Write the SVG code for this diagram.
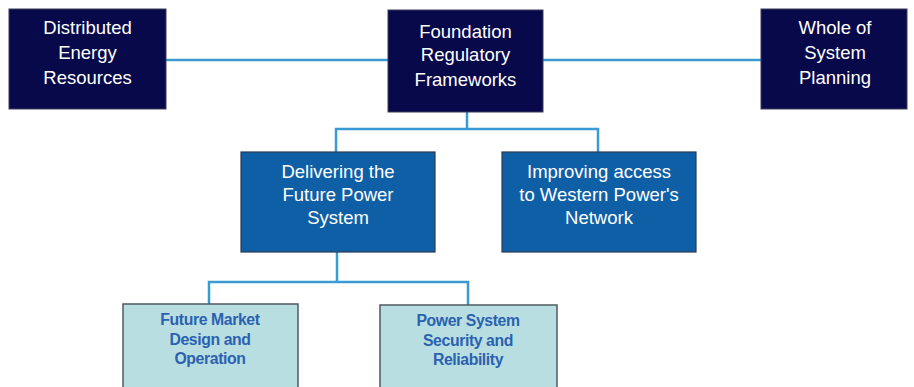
<svg xmlns="http://www.w3.org/2000/svg" width="914" height="387" viewBox="0 0 914 387">
  <style>
    .conn { fill: none; stroke: #3a9ad2; stroke-width: 2.5; }
    .navy { fill: #08094a; stroke: #3c3c5a; stroke-width: 1; }
    .mid { fill: #0f5fa6; stroke: #2c3a55; stroke-width: 1.2; }
    .light { fill: #b9dee2; stroke: #4f5a60; stroke-width: 1.5; }
    .tw { font-family: "Liberation Sans", Arial, sans-serif; font-size: 18.5px; fill: #ffffff; text-anchor: middle; }
    .tb { font-family: "Liberation Sans", Arial, sans-serif; font-size: 15.8px; font-weight: bold; fill: #2a62b0; text-anchor: middle; letter-spacing: -0.4px; }
  </style>
  <rect width="914" height="387" fill="#ffffff"/>

  <g id="connectors">
    <line class="conn" x1="166" y1="60" x2="388" y2="60"/>
    <line class="conn" x1="543" y1="60" x2="761" y2="60"/>
    <path class="conn" d="M467 112 V129 M336 152 V129 H598 V152"/>
    <path class="conn" d="M337 252 V282 M209 304 V282 H468 V305"/>
  </g>

  <g id="distributed-energy-resources">
    <rect class="navy" x="9" y="9" width="157" height="100"/>
    <text class="tw" x="87.5" y="34">Distributed</text>
    <text class="tw" x="87.5" y="59">Energy</text>
    <text class="tw" x="87.5" y="84">Resources</text>
  </g>

  <g id="foundation-regulatory-frameworks">
    <rect class="navy" x="388" y="10" width="155" height="102"/>
    <text class="tw" x="465.5" y="38">Foundation</text>
    <text class="tw" x="465.5" y="61">Regulatory</text>
    <text class="tw" x="465.5" y="86">Frameworks</text>
  </g>

  <g id="whole-of-system-planning">
    <rect class="navy" x="761" y="9" width="146" height="100"/>
    <text class="tw" x="835" y="34">Whole of</text>
    <text class="tw" x="835" y="59">System</text>
    <text class="tw" x="835" y="84">Planning</text>
  </g>

  <g id="delivering-future-power-system">
    <rect class="mid" x="241" y="152" width="194" height="100"/>
    <text class="tw" x="338" y="178">Delivering the</text>
    <text class="tw" x="338" y="201">Future Power</text>
    <text class="tw" x="338" y="224">System</text>
  </g>

  <g id="improving-access">
    <rect class="mid" x="502" y="152" width="194" height="100"/>
    <text class="tw" x="599" y="178">Improving access</text>
    <text class="tw" x="599" y="201">to Western Power's</text>
    <text class="tw" x="599" y="224">Network</text>
  </g>

  <g id="future-market-design">
    <rect class="light" x="123" y="304" width="175" height="90"/>
    <text class="tb" x="210" y="325">Future Market</text>
    <text class="tb" x="210" y="345">Design and</text>
    <text class="tb" x="210" y="364">Operation</text>
  </g>

  <g id="power-system-security">
    <rect class="light" x="380" y="305" width="177" height="90"/>
    <text class="tb" x="468" y="326">Power System</text>
    <text class="tb" x="468" y="346">Security and</text>
    <text class="tb" x="468" y="365">Reliability</text>
  </g>
</svg>
